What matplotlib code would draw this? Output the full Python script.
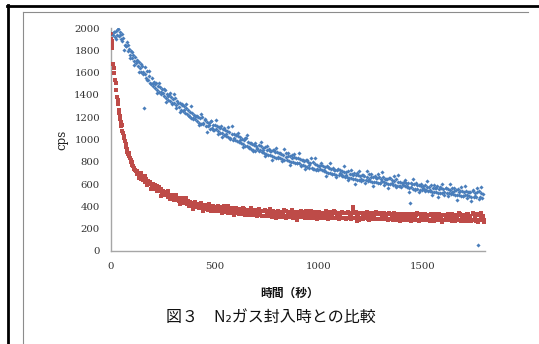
import numpy as np
import matplotlib
matplotlib.use("Agg")
import matplotlib.pyplot as plt
from matplotlib.lines import Line2D

# ---------------- data ----------------
# series 1 (blue): measured every 5 s from 10 s to 1790 s
blue_t = np.arange(10, 1791, 5)
blue_v = [
    1935, 1962, 1918, 1975, 1940, 1990, 1925, 1960, 1905, 1880, 1912, 1850, 1835, 1872, 1790, 1815, 1762, 1790, 1730, 1755,
    1705, 1742, 1688, 1710, 1660, 1695, 1638, 1602, 1655, 1585, 1282, 1590, 1548, 1612, 1535, 1570, 1505, 1548, 1478, 1520,
    1462, 1505, 1448, 1480, 1430, 1472, 1405, 1452, 1420, 1386, 1440, 1372, 1410, 1355, 1398, 1342, 1380, 1318, 1362, 1330,
    1368, 1305, 1342, 1290, 1325, 1268, 1310, 1252, 1298, 1240, 1282, 1225, 1262, 1210, 1248, 1195, 1236, 1180, 1222, 1185,
    1215, 1170, 1206, 1152, 1190, 1140, 1198, 1135, 1172, 1118, 1160, 1125, 1145, 1098, 1162, 1105, 1130, 1082, 1128, 1090,
    1125, 1072, 1108, 1060, 1118, 1055, 1090, 1040, 1085, 1030, 1072, 1020, 1065, 1008, 1052, 1000, 1045, 995, 1040, 988,
    1032, 975, 1018, 965, 1005, 958, 995, 945, 1010, 940, 975, 928, 968, 915, 960, 905, 948, 898, 940, 912,
    952, 905, 938, 890, 925, 878, 935, 872, 910, 865, 918, 858, 898, 850, 905, 845, 885, 838, 892, 840,
    880, 835, 872, 828, 865, 815, 878, 820, 855, 808, 848, 800, 862, 795, 840, 790, 835, 785, 830, 792,
    822, 775, 815, 768, 808, 760, 820, 755, 795, 748, 788, 740, 800, 735, 778, 728, 772, 725, 765, 738,
    770, 722, 758, 715, 752, 708, 765, 702, 740, 698, 738, 692, 748, 688, 728, 682, 725, 680, 722, 690,
    718, 675, 710, 668, 705, 662, 715, 658, 695, 652, 690, 648, 702, 645, 685, 640, 680, 638, 675, 650,
    685, 640, 672, 635, 668, 628, 690, 632, 660, 622, 665, 618, 672, 615, 655, 612, 662, 610, 650, 625,
    660, 615, 648, 608, 642, 600, 655, 598, 635, 592, 630, 588, 642, 585, 620, 580, 618, 578, 612, 590,
    622, 580, 612, 575, 608, 568, 430, 570, 600, 560, 598, 555, 610, 552, 590, 548, 585, 545, 580, 558,
    588, 548, 578, 542, 575, 535, 590, 532, 565, 528, 568, 525, 580, 522, 558, 520, 562, 518, 555, 530,
    565, 522, 555, 518, 550, 512, 568, 508, 540, 505, 545, 500, 558, 498, 535, 495, 540, 492, 532, 505,
    540, 498, 530, 495, 528, 488, 545, 485, 520, 482, 525, 55, 535, 480, 518, 478, 512,
]
# further blue readings between the 5 s ones (every 10 s from 13 s)
blue_mid_t = np.arange(13, 1784, 10)
blue_mid_v = [
    1968, 1903, 1990, 1937, 1950, 1805, 1839, 1848, 1735, 1786,
    1670, 1702, 1608, 1673, 1605, 1650, 1532, 1617, 1498, 1503,
    1498, 1413, 1511, 1427, 1453, 1332, 1390, 1418, 1325, 1408,
    1285, 1330, 1243, 1320, 1265, 1317, 1207, 1300, 1190, 1208,
    1208, 1128, 1231, 1152, 1185, 1070, 1134, 1168, 1082, 1171,
    1053, 1102, 1021, 1103, 1053, 1115, 1014, 1117, 1015, 1036,
    1059, 992, 934, 1012, 1038, 935, 970, 900, 970, 927,
    898, 982, 902, 853, 940, 901, 818, 909, 928, 830,
    883, 808, 915, 840, 878, 767, 836, 874, 790, 880,
    763, 814, 733, 817, 767, 831, 732, 836, 736, 758,
    786, 723, 670, 753, 785, 687, 727, 662, 738, 699,
    672, 758, 680, 633, 722, 685, 604, 697, 718, 624,
    680, 608, 718, 647, 687, 580, 651, 693, 612, 706,
    591, 645, 568, 654, 607, 674, 578, 684, 587, 613,
    641, 580, 528, 613, 645, 549, 590, 527, 603, 565,
    539, 627, 551, 505, 596, 561, 482, 576, 599, 506,
    561, 489, 599, 528, 568, 461, 532, 574, 493, 586,
    473, 528, 452, 540, 495, 563, 468, 576,
]

# series 2 (red): fast initial drop, then every 5 s from 120 s to 1795 s
red_early_t = [1, 2, 3, 5, 7, 12, 14, 16, 21, 23, 25, 30, 32, 34, 37, 39, 41, 43, 46, 49, 52,
               55, 58, 61, 64, 67, 70, 73, 76, 79, 82, 85, 88, 91, 94, 97, 100, 103, 106, 109, 112, 115]
red_early_v = [1950, 1905, 1880, 1860, 1820, 1675, 1640, 1600, 1530, 1505, 1440, 1380, 1350, 1320,
               1265, 1240, 1210, 1185, 1160, 1120, 1130, 1080, 1060, 1035, 1010, 990, 960, 935, 915,
               890, 870, 855, 880, 835, 815, 795, 800, 775, 760, 745, 735, 722]
red_late_t = np.arange(120, 1796, 5)
red_late_v = [
    718, 690, 702, 668, 684, 650, 672, 638, 658, 622, 645, 608, 628, 598, 615, 585, 600, 570, 588, 560,
    582, 552, 568, 540, 558, 525, 540, 505, 528, 498, 515, 488, 505, 478, 498, 470, 488, 462, 482, 455,
    478, 450, 470, 440, 462, 432, 458, 428, 450, 420, 445, 415, 440, 410, 432, 402, 428, 398, 425, 395,
    420, 392, 415, 385, 412, 380, 410, 378, 402, 372, 398, 368, 405, 365, 392, 362, 395, 360, 388, 358,
    392, 360, 385, 355, 395, 352, 380, 348, 385, 345, 378, 342, 388, 340, 372, 338, 375, 345, 370, 335,
    375, 338, 368, 332, 380, 330, 362, 328, 370, 325, 358, 322, 365, 320, 355, 325, 362, 318, 358, 322,
    360, 318, 355, 315, 365, 312, 350, 310, 358, 315, 348, 308, 355, 312, 345, 305, 352, 310, 348, 308,
    352, 310, 345, 305, 358, 312, 340, 302, 350, 308, 345, 300, 352, 305, 338, 280, 348, 308, 342, 302,
    350, 305, 342, 300, 355, 308, 338, 298, 345, 302, 340, 295, 352, 305, 335, 298, 345, 302, 338, 296,
    345, 300, 340, 295, 352, 302, 335, 292, 348, 300, 338, 295, 350, 298, 332, 290, 345, 300, 340, 293,
    342, 298, 338, 292, 348, 300, 335, 290, 345, 395, 338, 295, 350, 272, 332, 292, 345, 298, 338, 290,
    340, 295, 335, 290, 345, 292, 330, 288, 340, 295, 332, 286, 342, 290, 328, 285, 338, 292, 330, 284,
    332, 288, 328, 282, 338, 290, 322, 280, 335, 286, 325, 278, 336, 284, 322, 280, 330, 286, 325, 278,
    328, 282, 322, 276, 332, 284, 318, 278, 330, 282, 320, 275, 332, 280, 318, 276, 328, 282, 320, 274,
    325, 280, 320, 275, 330, 282, 315, 272, 328, 280, 318, 274, 330, 278, 316, 272, 326, 280, 320, 274,
    328, 282, 318, 275, 332, 280, 316, 272, 326, 278, 320, 274, 335, 280, 315, 270, 326, 278, 320, 272,
    330, 280, 318, 274, 345, 282, 316, 270, 328, 262, 320, 276, 338, 282, 318, 275,
]
# further red readings between the 5 s ones (every 10 s from 123 s)
red_mid_t = np.arange(123, 1794, 10)
red_mid_v = [
    720, 655, 696, 640, 671, 595, 610, 552, 599, 558,
    535, 575, 497, 530, 505, 539, 464, 501, 459, 498,
    477, 426, 478, 431, 471, 405, 429, 380, 436, 402,
    386, 434, 363, 404, 386, 426, 357, 400, 365, 408,
    391, 344, 400, 358, 403, 341, 369, 324, 382, 350,
    337, 387, 319, 362, 345, 387, 319, 364, 330, 373,
    357, 311, 368, 327, 373, 312, 341, 297, 356, 325,
    313, 364, 297, 341, 326, 368, 302, 347, 314, 358,
    343, 297, 355, 314, 361, 300, 330, 287, 346, 316,
    304, 355, 288, 333, 318, 360, 294, 340, 307, 352,
    337, 291, 349, 309, 355, 295, 325, 282, 342, 312,
    299, 350, 282, 326, 310, 352, 285, 330, 296, 340,
    324, 278, 335, 294, 340, 280, 310, 267, 326, 296,
    283, 335, 267, 312, 297, 339, 273, 319, 285, 330,
    315, 270, 328, 288, 335, 275, 305, 262, 322, 292,
    280, 332, 265, 310, 295, 338, 272, 318, 285, 330,
    315, 270, 328, 288, 335, 275, 305, 262,
]

x_ticks = [0, 500, 1000, 1500]
y_ticks = list(range(0, 2001, 200))
x_label = "時間（秒）"
y_label = "cps"
caption = "図３　N₂ガス封入時との比較"

# ---------------- figure ----------------
W, H = 539, 344
fig = plt.figure(figsize=(W / 100, H / 100), dpi=100)
fig.patch.set_facecolor("white")

ax = fig.add_axes([111 / W, 1 - 251 / H, (485 - 111) / W, (251 - 28) / H])

blue = "#4a7ebb"
red = "#be4b48"
for tt, vv in ((red_early_t, red_early_v), (red_late_t, red_late_v), (red_mid_t, red_mid_v)):
    ax.plot(tt, vv, linestyle="none", marker="s", ms=2.4, mew=0, color=red, zorder=3)
for tt, vv in ((blue_t, blue_v), (blue_mid_t, blue_mid_v)):
    ax.plot(tt, vv, linestyle="none", marker="D", ms=2.1, mew=0, color=blue, zorder=4)

ax.set_xlim(0, 1800)
ax.set_ylim(0, 2000)
ax.set_xticks(x_ticks)
ax.set_yticks(y_ticks)
for s in ("top", "right"):
    ax.spines[s].set_visible(False)
for s in ("left", "bottom"):
    ax.spines[s].set_color("#a6a6a6")
    ax.spines[s].set_linewidth(1.0)
ax.tick_params(length=0, labelsize=7.3, labelcolor="#333333", pad=8)
for lab in ax.get_xticklabels() + ax.get_yticklabels():
    lab.set_family("DejaVu Serif")

ax.set_ylabel(y_label, family="DejaVu Serif", fontsize=8.5, color="#222222", labelpad=4)
fig.text(290 / W, 1 - 293 / H, x_label, ha="center", va="center",
         family=["Noto Sans CJK JP", "DejaVu Sans"], fontweight="bold", fontsize=8.5,
         color="#111111")
fig.text(271 / W, 1 - 317 / H, caption, ha="center", va="center",
         family=["Noto Sans CJK JP", "DejaVu Sans"], fontsize=11.5, color="#111111")

# page frame (scanned document borders)
def fx(px):
    return px / W

def fy(py):
    return 1 - py / H

fig.add_artist(Line2D([fx(7), fx(539)], [fy(6), fy(6)], color="black", lw=2.0))
fig.add_artist(Line2D([fx(8), fx(8)], [fy(5), fy(344)], color="black", lw=2.0))
fig.add_artist(Line2D([fx(23), fx(528)], [fy(12.3), fy(12.3)], color="#8c8c8c", lw=0.8))
fig.add_artist(Line2D([fx(23.3), fx(23.3)], [fy(12), fy(344)], color="#8c8c8c", lw=0.8))

fig.savefig("out.png", dpi=100)
